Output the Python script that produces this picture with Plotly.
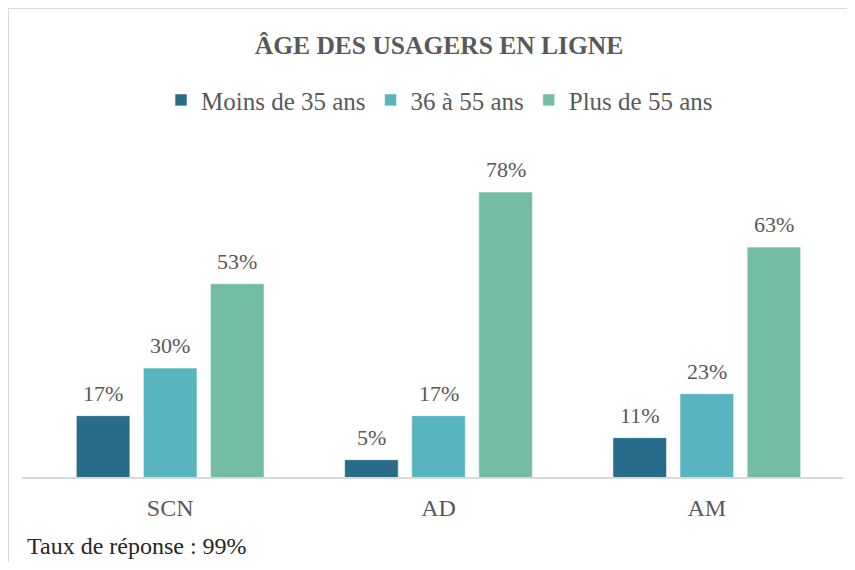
import plotly.graph_objects as go

categories = ["SCN", "AD", "AM"]
series_names = ["Moins de 35 ans", "36 à 55 ans", "Plus de 55 ans"]
moins_35 = [17, 5, 11]
de_36_55 = [30, 17, 23]
plus_55 = [53, 78, 63]
series_values = [moins_35, de_36_55, plus_55]
colors = ["#276C89", "#58B5C0", "#74BDA5"]

FONT = "Liberation Serif"
GRAY = "#595959"
W, H = 839, 554

fig = go.Figure()
for name, vals, col in zip(series_names, series_values, colors):
    fig.add_trace(go.Bar(
        x=categories, y=vals, name=name,
        marker=dict(color=col, line=dict(color="rgba(255,255,255,0.6)", width=1)),
    ))

annotations = []
slot = 67
for i, vals in enumerate(series_values):
    for cat, v in zip(categories, vals):
        annotations.append(dict(
            x=cat, y=v, xref="x", yref="y", text=f"{v}%", showarrow=False,
            xshift=(i - 1) * slot, yshift=8, yanchor="bottom",
            font=dict(family=FONT, size=22, color=GRAY),
        ))

annotations.append(dict(
    x=-0.0124, y=-0.249, xref="paper", yref="paper", xanchor="left", yanchor="bottom",
    text="Taux de réponse : 99%", showarrow=False, borderpad=0,
    font=dict(family=FONT, size=24, color="#262626"),
))

fig.update_layout(
    width=W, height=H,
    font=dict(family=FONT),
    margin=dict(l=28, r=6, t=140, b=84, autoexpand=False),
    paper_bgcolor="white", plot_bgcolor="white",
    barmode="group", bargap=0.25, bargroupgap=0.2,
    title=dict(text="<b>ÂGE DES USAGERS EN LIGNE</b>", x=431 / W, xanchor="center",
               y=1 - 37 / H, yanchor="middle", yref="container",
               font=dict(family=FONT, size=25.5, color=GRAY)),
    legend=dict(orientation="h", x=431.5 / W, xref="container", xanchor="center",
                y=1.145, yanchor="middle",
                font=dict(family=FONT, size=25, color=GRAY),
                traceorder="normal", itemwidth=30),
    xaxis=dict(showline=False, ticks="", showgrid=False, ticklabelstandoff=13,
               tickfont=dict(family=FONT, size=24, color=GRAY)),
    yaxis=dict(range=[0, 90], visible=False, showgrid=False),
    annotations=annotations,
    shapes=[
        dict(type="line", xref="paper", yref="paper", x0=-0.0174, x1=1.0025, y0=0, y1=0,
             line=dict(color="#D9D9D9", width=2)),
        dict(type="line", xref="paper", yref="paper", x0=-0.0348, x1=1.2, y0=1.424, y1=1.424,
             line=dict(color="#D9D9D9", width=2)),
        dict(type="line", xref="paper", yref="paper", x0=-0.0348, x1=-0.0348, y0=-1, y1=1.424,
             line=dict(color="#D9D9D9", width=2)),
    ],
)

fig.write_html("out.html")
